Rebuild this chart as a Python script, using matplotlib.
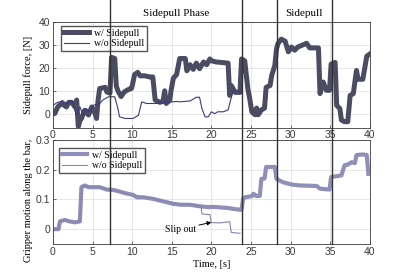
import matplotlib
matplotlib.use("Agg")
import matplotlib.pyplot as plt
from matplotlib.lines import Line2D
from matplotlib.transforms import blended_transform_factory

# --- Данные ---
force_time_with = [0, 0.25, 0.6, 1.1, 1.7, 2.0, 2.35, 2.8, 3.0, 3.2, 3.4, 3.6, 4.0, 4.5, 4.9, 5.3, 5.5, 5.7,
                   5.9, 6.6, 6.8, 7.2, 7.4, 7.8, 8.0, 8.2, 8.6, 9.0, 9.5, 9.9, 10.0, 10.3, 10.7, 11.0, 11.6,
                   12.2, 12.6, 12.9, 13.5, 13.9, 14.1, 14.3, 14.75, 14.9, 15.2, 15.6, 16.0, 16.7, 16.9, 17.3,
                   17.7, 18.1, 18.5, 19.0, 19.4, 19.8, 20.0, 20.6, 22.1, 22.3, 22.5, 23.0, 23.6, 23.8, 24.2,
                   24.6, 24.8, 25.1, 25.5, 25.7, 25.9, 26.3, 26.7, 26.9, 27.4, 27.6, 28.0, 28.2, 28.4, 28.8,
                   29.3, 29.7, 30.1, 30.5, 30.9, 31.6, 32.0, 32.4, 33.5, 33.7, 34.1, 34.5, 34.9, 35.1, 35.6,
                   35.8, 36.2, 36.4, 36.8, 37.2, 37.5, 37.9, 38.3, 38.5, 39.1, 39.6, 40.0]
force_with = [0, 0.2, 3, 4.5, 3, 5, 5, 3, 6, -5.5, -3, -2, 1.5, -0.5, 3, 0.3, -2, 6,
              11, 11.5, 9.5, 9, 24.5, 24, 12, 10, 7.5, 9.5, 10.5, 11, 12, 17, 18, 16.5, 16.5,
              16, 16, 6, 5, 5.5, 10, 4.5, 6, 10, 15.5, 17, 24, 24, 18.7, 21.3,
              19.3, 22, 19.6, 22.5, 21.3, 23.8, 23, 22.5, 22, 8, 12.3, 9.3, 9.3, 23.8, 23,
              10.7, 7.2, 0.9, -0.4, 2.5, -0.4, 1.7, 2.5, 11.5, 12.3, 16.6, 21, 28, 30.5, 32.4,
              31.5, 26.9, 29, 27.6, 29, 30, 30.6, 28.6, 28.6, 8.8, 13.8, 10.2, 10.2, 21.6, 22.3,
              3.7, 2.3, -2.7, -3.4, -3.4, 8, 8.8, 18.8, 15, 15, 25, 26]

force_time_without = [0, 0.6, 0.9, 1.2, 1.7, 2.5, 2.6, 3.0, 3.4, 3.8, 4.2, 4.7, 5.1, 5.9, 6.3, 7.0, 7.8,
                      8.2, 8.4, 9.1, 10.1, 10.8, 11.2, 11.8, 13.1, 14.3, 15.6, 16.0, 17.3, 18.1, 18.5,
                      18.8, 19.2, 19.6, 20.0, 20.4, 20.8, 21.5, 22.1, 22.7, 23.2, 23.8]
force_without = [3.7, 5, 5.2, 5.8, 4.5, 5.5, 3.1, -0.6, 3.1, -0.6, 2.3, 0.9, 3.7, 4.5, 6, 7.4, 7.4,
                 2.3, -1.3, -2, -2, -0.6, 5.2, 4.5, 4.5, 4.9, 5.4, 5.2, 5.6, 7.2, 7.2,
                 2.3, -1.3, -1.3, 0.9, 0.1, 0.9, 0.9, 1.7, 9.6, 10.2, 9.4]

motion_time_with = [0, 0.7, 0.9, 1.5, 2.1, 2.8, 3.4, 3.6, 4.0, 4.5, 5.9, 6.8, 7.6, 8.2, 9.1, 10.1, 10.6,
                    11.4, 12.6, 13.5, 14.3, 15.2, 16.2, 17.3, 18.5, 19.6, 20.2, 22.1, 23.6, 23.8, 24.0,
                    24.2, 25.1, 25.3, 25.7, 26.1, 26.3, 26.7, 26.9, 28.0, 28.2, 29.0, 30.1, 31.1, 33.3,
                    33.7, 34.9, 35.1, 35.8, 36.4, 36.8, 37.2, 37.7, 38.1, 38.3, 39.1, 39.6, 39.8]
motion_with = [0, 0, 0.026, 0.031, 0.026, 0.023, 0.026, 0.141, 0.147, 0.141, 0.141, 0.133, 0.132, 0.128,
               0.121, 0.115, 0.107, 0.107, 0.102, 0.096, 0.091, 0.085, 0.082, 0.082, 0.077, 0.074, 0.075,
               0.071, 0.065, 0.066, 0.102, 0.107, 0.111, 0.119, 0.111, 0.112, 0.169, 0.17, 0.209, 0.209,
               0.169, 0.158, 0.15, 0.147, 0.145, 0.136, 0.133, 0.175, 0.178, 0.181, 0.215, 0.217, 0.225,
               0.222, 0.249, 0.251, 0.249, 0.186]

motion_time_without = [0, 0.7, 0.8, 1.5, 2.8, 3.4, 3.6, 4.0, 5.9, 7.6, 9.1, 10.1, 10.6, 11.4, 12.6, 14.3,
                       16.2, 17.3, 18.5, 18.7, 18.8, 19.8, 20.0, 21.1, 22.3, 22.5, 23.6]
motion_without = [0, 0, 0.028, 0.03, 0.024, 0.026, 0.138, 0.145, 0.14, 0.131, 0.12, 0.118, 0.112, 0.108,
                  0.103, 0.092, 0.084, 0.083, 0.078, 0.077, 0.051, 0.049, 0.022, 0.021, 0.025, -0.011, -0.014]

phase_lines = [7.25, 23.85, 28.25, 35.15]
phase_labels = [("Sidepull Phase", 7.25, 23.85), ("Sidepull", 28.25, 35.15)]

# --- Оформление ---
SERIF = "Liberation Serif"
plt.rcParams['font.family'] = "Liberation Sans"
plt.rcParams['font.size'] = 7.5

figure = plt.figure(figsize=(4.07, 2.77), dpi=100)
axes_top = figure.add_axes([0.130, 0.539, 0.779, 0.383])
axes_bottom = figure.add_axes([0.130, 0.119, 0.779, 0.376])

legend_options = dict(loc='upper left', prop={'family': SERIF, 'size': 7}, handlelength=2.6,
                      borderpad=0.3, labelspacing=0.15, handletextpad=0.5, fancybox=False,
                      edgecolor='#555555', framealpha=1, borderaxespad=0)


def style_axes(axes):
    axes.set_xlim(0, 40)
    axes.set_xticks(range(0, 41, 5))
    axes.grid(True, color='#e3e3e3', linewidth=0.6)
    axes.set_axisbelow(True)
    axes.tick_params(direction='in', length=2.5, width=0.5, colors='#3a3a3a', labelsize=7.5, pad=2)
    for spine in axes.spines.values():
        spine.set_color('#3a3a3a')
        spine.set_linewidth(0.6)


# Верхний график: сила
axes_top.plot(force_time_with, force_with, color='#4b4b62', linewidth=3.6, label='w/ Sidepull')
axes_top.plot(force_time_without, force_without, color='#3a3a80', linewidth=0.8, label='w/o Sidepull')
style_axes(axes_top)
axes_top.set_ylim(-6, 40)
axes_top.set_yticks([0, 10, 20, 30, 40])
axes_top.set_ylabel('Sidepull force, [N]', family=SERIF, fontsize=7.5, labelpad=4)
axes_top.legend(bbox_to_anchor=(0.025, 0.96), **legend_options)

# Нижний график: перемещение
axes_bottom.plot(motion_time_with, motion_with, color='#8f8fb8', linewidth=3.0, label='w/ Sidepull')
axes_bottom.plot(motion_time_without, motion_without, color='#8585ad', linewidth=0.8, label='w/o Sidepull')
style_axes(axes_bottom)
axes_bottom.set_ylim(-0.05, 0.3)
axes_bottom.set_yticks([0, 0.1, 0.2, 0.3])
axes_bottom.set_yticklabels(['0', '0.1', '0.2', '0.3'])
axes_bottom.set_xlabel('Time, [s]', family=SERIF, fontsize=7.5, labelpad=2)
axes_bottom.legend(bbox_to_anchor=(0.02, 0.923), **legend_options)
figure.text(0.069, 0.054, 'Gripper motion along the bar,', family=SERIF, fontsize=7.5,
            rotation=90, ha='center', va='bottom')

axes_bottom.annotate('Slip out', xy=(20.0, 0.023), xytext=(16.1, 0.0), family=SERIF, fontsize=7,
                     ha='center', va='center',
                     arrowprops=dict(arrowstyle='-|>', color='black', linewidth=0.7,
                                     mutation_scale=6, shrinkA=14, shrinkB=0))

# Вертикальные линии фаз через оба графика
line_transform = blended_transform_factory(axes_bottom.transData, figure.transFigure)
for position in phase_lines:
    figure.add_artist(Line2D([position, position], [0.119, 1.0], transform=line_transform,
                             color='#333333', linewidth=1.0))

for text, start, end in phase_labels:
    figure.text((start + end) / 2, 0.953, text, transform=line_transform, family=SERIF,
                fontsize=8, ha='center', va='center')

figure.savefig('out.png', dpi=100)
plt.close(figure)
